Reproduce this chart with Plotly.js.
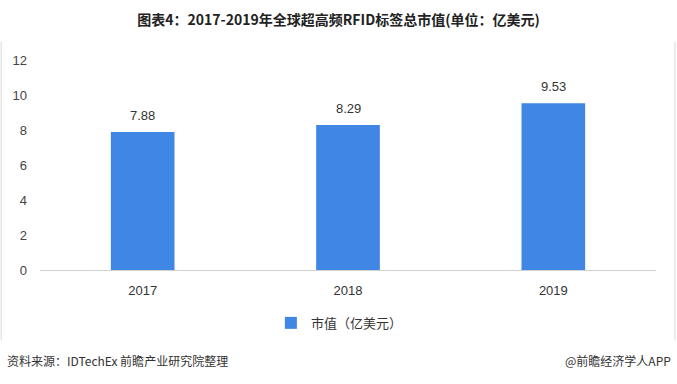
<!DOCTYPE html>
<html><head><meta charset="utf-8">
<script src="https://cdn.plot.ly/plotly-3.0.1.min.js"></script>
<style>html,body{margin:0;padding:0;background:#fff}#c{width:677px;height:384px}</style>
</head><body><div id="c"></div>
<script>
const years = ['2017', '2018', '2019'];
const marketValue = [7.88, 8.29, 9.53];
const seriesName = '市值（亿美元）';
const yTicks = [0, 2, 4, 6, 8, 10, 12];

const CJK = '"Noto Sans CJK SC", "Noto Sans", sans-serif';
const ARIAL = 'Arial, "Liberation Sans", sans-serif';
const trace = {
  type: 'bar', x: years, y: marketValue, name: seriesName,
  marker: {color: '#3f86e5'}, showlegend: true
};
const valueLabels = years.map((yr, i) => ({
  x: i, y: marketValue[i], xref: 'x', yref: 'y', text: marketValue[i].toFixed(2),
  showarrow: false, yanchor: 'bottom', yshift: 7,
  font: {family: ARIAL, size: 13, color: '#333'}
}));
const layout = {
  width: 677, height: 384,
  margin: {l: 40, r: 21, t: 60, b: 114},
  paper_bgcolor: '#fff', plot_bgcolor: '#fff',
  bargap: 0.69,
  title: {text: '<b>图表4：2017-2019年全球超高频RFID标签总市值(单位：亿美元)</b>',
          font: {family: CJK, size: 14, color: '#222'}, x: 0.5, xanchor: 'center', y: 0.948, yanchor: 'middle'},
  xaxis: {type: 'category', range: [-0.5, years.length - 0.5], autorange: false,
          showgrid: false, showline: true, linecolor: '#d0d0d0', linewidth: 1,
          ticks: '', ticklabelstandoff: 8, tickfont: {family: ARIAL, size: 13, color: '#333'}},
  yaxis: {range: [0, 12], tickvals: yTicks, showgrid: false, zeroline: false, showline: false,
          ticks: '', ticklabelstandoff: 12,
          tickfont: {family: ARIAL, size: 13, color: '#444'}},
  showlegend: true,
  legend: {orientation: 'h', x: 0.486, xanchor: 'center', y: -0.252, yanchor: 'middle',
           font: {family: CJK, size: 13, color: '#333'}},
  shapes: [
    {type: 'line', xref: 'paper', yref: 'paper', x0: -0.063, x1: -0.063, y0: 1.086, y1: -0.333,
     line: {color: '#d8d8d8', width: 1}},
    {type: 'line', xref: 'paper', yref: 'paper', x0: 1.0308, x1: 1.0308, y0: 1.086, y1: -0.333,
     line: {color: '#d8d8d8', width: 1}}
  ],
  annotations: valueLabels.concat([
    {text: '资料来源：IDTechEx 前瞻产业研究院整理', xref: 'paper', yref: 'paper', x: -0.057, xanchor: 'left',
     y: -0.433, yanchor: 'middle', showarrow: false, font: {family: CJK, size: 12, color: '#333'}},
    {text: '@前瞻经济学人APP', xref: 'paper', yref: 'paper', x: 1.028, xanchor: 'right',
     y: -0.433, yanchor: 'middle', showarrow: false, font: {family: CJK, size: 12, color: '#333'}}
  ])
};
Plotly.newPlot('c', [trace], layout, {displayModeBar: false, staticPlot: true});
</script></body></html>
